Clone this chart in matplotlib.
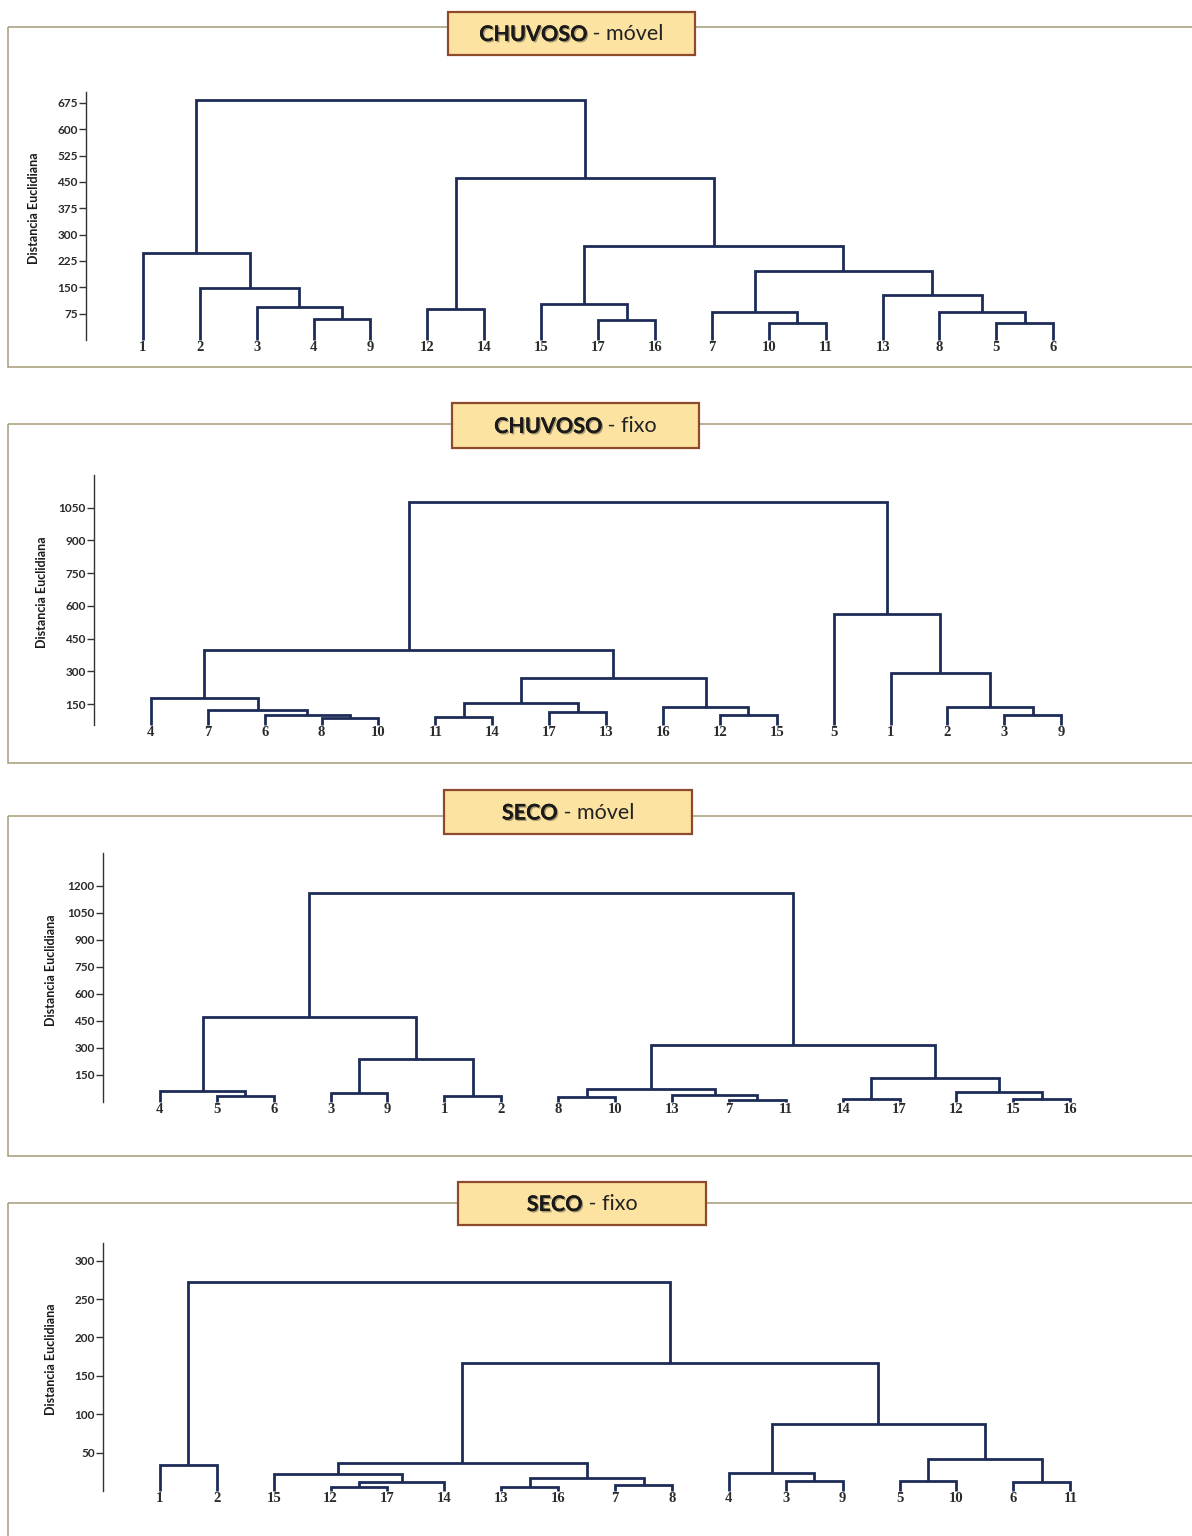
import matplotlib
matplotlib.use("Agg")
import matplotlib.pyplot as plt
import matplotlib.patheffects as pe
from matplotlib.patches import Rectangle

plt.rcParams['font.family'] = ['Lato', 'DejaVu Sans']

W, H = 1192, 1536
LINE = '#1d2b57'
FRAME = '#a59b76'
BOX_FILL = '#fce3a2'
BOX_EDGE = '#8e4b2b'

# ---- data: leaf order + links (a, b, height); leaves are 1..17, link k gets id 18+k ----
chuv_movel_leaves = [1, 2, 3, 4, 9, 12, 14, 15, 17, 16, 7, 10, 11, 13, 8, 5, 6]
chuv_movel_links = [
    (4, 9, 59), (3, 18, 94), (2, 19, 149), (1, 20, 248),
    (12, 14, 89), (17, 16, 56), (15, 23, 103), (10, 11, 47),
    (7, 25, 80), (5, 6, 49), (8, 27, 80), (13, 28, 127),
    (26, 29, 197), (24, 30, 268), (22, 31, 460), (21, 32, 683),
]
chuv_movel_ticks = [75, 150, 225, 300, 375, 450, 525, 600, 675]

chuv_fixo_leaves = [4, 7, 6, 8, 10, 11, 14, 17, 13, 16, 12, 15, 5, 1, 2, 3, 9]
chuv_fixo_links = [
    (8, 10, 84), (6, 18, 100), (7, 19, 122), (4, 20, 176),
    (11, 14, 92), (17, 13, 112), (22, 23, 153), (12, 15, 100),
    (16, 25, 138), (24, 26, 268), (21, 27, 398), (3, 9, 100),
    (2, 29, 138), (1, 30, 291), (5, 31, 563), (28, 32, 1078),
]
chuv_fixo_ticks = [150, 300, 450, 600, 750, 900, 1050]

seco_movel_leaves = [4, 5, 6, 3, 9, 1, 2, 8, 10, 13, 7, 11, 14, 17, 12, 15, 16]
seco_movel_links = [
    (5, 6, 33), (4, 18, 63), (3, 9, 52), (1, 2, 33),
    (20, 21, 237), (19, 22, 470), (8, 10, 26), (7, 11, 11),
    (13, 25, 39), (24, 26, 70), (14, 17, 17), (15, 16, 17),
    (12, 29, 57), (28, 30, 131), (27, 31, 317), (23, 32, 1163),
]
seco_movel_ticks = [150, 300, 450, 600, 750, 900, 1050, 1200]

seco_fixo_leaves = [1, 2, 15, 12, 17, 14, 13, 16, 7, 8, 4, 3, 9, 5, 10, 6, 11]
seco_fixo_links = [
    (1, 2, 34), (12, 17, 5.6), (19, 14, 12), (15, 20, 22),
    (13, 16, 4.8), (7, 8, 7.8), (22, 23, 17), (21, 24, 37),
    (3, 9, 13.5), (4, 26, 24), (5, 10, 13.5), (6, 11, 12),
    (28, 29, 42), (27, 30, 87), (25, 31, 167), (18, 32, 272.6),
]
seco_fixo_ticks = [50, 100, 150, 200, 250, 300]

# ---- layout (pixels) ----
panels = [
    dict(bold='CHUVOSO', rest=' - móvel', leaves=chuv_movel_leaves, links=chuv_movel_links,
         ticks=chuv_movel_ticks, ylim=(0, 706), frame=(27, 367), box=(448, 12, 695, 55),
         ax_px=(86, 92, 340)),
    dict(bold='CHUVOSO', rest=' - fixo', leaves=chuv_fixo_leaves, links=chuv_fixo_links,
         ticks=chuv_fixo_ticks, ylim=(54, 1200), frame=(424, 763), box=(452, 403, 699, 448),
         ax_px=(94, 475, 725)),
    dict(bold='SECO', rest=' - móvel', leaves=seco_movel_leaves, links=seco_movel_links,
         ticks=seco_movel_ticks, ylim=(0, 1383), frame=(816, 1156), box=(444, 790, 692, 834),
         ax_px=(103, 853, 1102)),
    dict(bold='SECO', rest=' - fixo', leaves=seco_fixo_leaves, links=seco_fixo_links,
         ticks=seco_fixo_ticks, ylim=(0, 323), frame=(1203, 1570), box=(458, 1182, 706, 1225),
         ax_px=(103, 1243, 1491)),
]
STEP = 56.9  # px between leaves
XMAX = 19


def draw_dendro(ax, leaves, links, base):
    n = len(leaves)
    xpos = {leaf: i + 1 for i, leaf in enumerate(leaves)}
    ypos = {leaf: base for leaf in leaves}
    for k, (a, b, h) in enumerate(links):
        xa, xb = xpos[a], xpos[b]
        ax.plot([xa, xa, xb, xb], [ypos[a], h, h, ypos[b]], color=LINE, lw=2.0,
                solid_joinstyle='miter', solid_capstyle='butt', clip_on=False)
        cid = n + 1 + k
        xpos[cid] = (xa + xb) / 2
        ypos[cid] = h


fig = plt.figure(figsize=(W / 100, H / 100), dpi=100)
fig.patch.set_facecolor('white')

bg = fig.add_axes([0, 0, 1, 1], zorder=0)
bg.set_xlim(0, W)
bg.set_ylim(H, 0)
bg.axis('off')

renderer = fig.canvas.get_renderer()

for p in panels:
    # outer frame (open to the right edge)
    top, bottom = p['frame']
    bg.add_patch(Rectangle((8, top), W + 20 - 8, bottom - top, fill=False,
                           edgecolor=FRAME, lw=1.1, clip_on=False))
    # title box
    l, t, r, b = p['box']
    bg.add_patch(Rectangle((l, t), r - l, b - t, facecolor=BOX_FILL,
                           edgecolor=BOX_EDGE, lw=1.6, zorder=3))
    cy = (t + b) / 2 + 1
    t1 = bg.text(0, cy, p['bold'], fontsize=15.5, fontweight='bold', color='#1a1a1a',
                 ha='left', va='center', zorder=4,
                 path_effects=[pe.withSimplePatchShadow(offset=(1, -1), alpha=0.35), pe.Normal()])
    t2 = bg.text(0, cy, p['rest'], fontsize=15.5, color='#222222',
                 ha='left', va='center', zorder=4)
    w1 = t1.get_window_extent(renderer).width
    w2 = t2.get_window_extent(renderer).width
    x0 = (l + r) / 2 - (w1 + w2) / 2
    t1.set_x(x0)
    t2.set_x(x0 + w1)

    # dendrogram axes
    left, atop, abot = p['ax_px']
    width = XMAX * STEP
    ax = fig.add_axes([left / W, 1 - abot / H, width / W, (abot - atop) / H], zorder=2)
    ax.patch.set_alpha(0)
    ax.set_xlim(0, XMAX)
    ax.set_ylim(*p['ylim'])
    draw_dendro(ax, p['leaves'], p['links'], p['ylim'][0])

    for s in ['top', 'right', 'bottom']:
        ax.spines[s].set_visible(False)
    ax.spines['left'].set_color('#333333')
    ax.spines['left'].set_linewidth(1)

    ax.set_yticks(p['ticks'], labels=[str(v) for v in p['ticks']],
                  fontsize=8.5, fontweight='bold', color='#2a2a2a')
    ax.tick_params(axis='y', length=5, width=1, pad=1, color='#333333')
    ax.set_xticks(range(1, len(p['leaves']) + 1), labels=[str(v) for v in p['leaves']],
                  fontfamily='Liberation Serif', fontsize=10.5, fontweight='bold',
                  color='#2a2a2a')
    ax.tick_params(axis='x', length=0, pad=1)

    ax.set_ylabel('Distancia Euclidiana', fontsize=9, fontweight='bold', color='#1a1a1a')
    ax.yaxis.set_label_coords(-46 / width, 0.53)

fig.savefig('out.png', dpi=100, facecolor='white')
